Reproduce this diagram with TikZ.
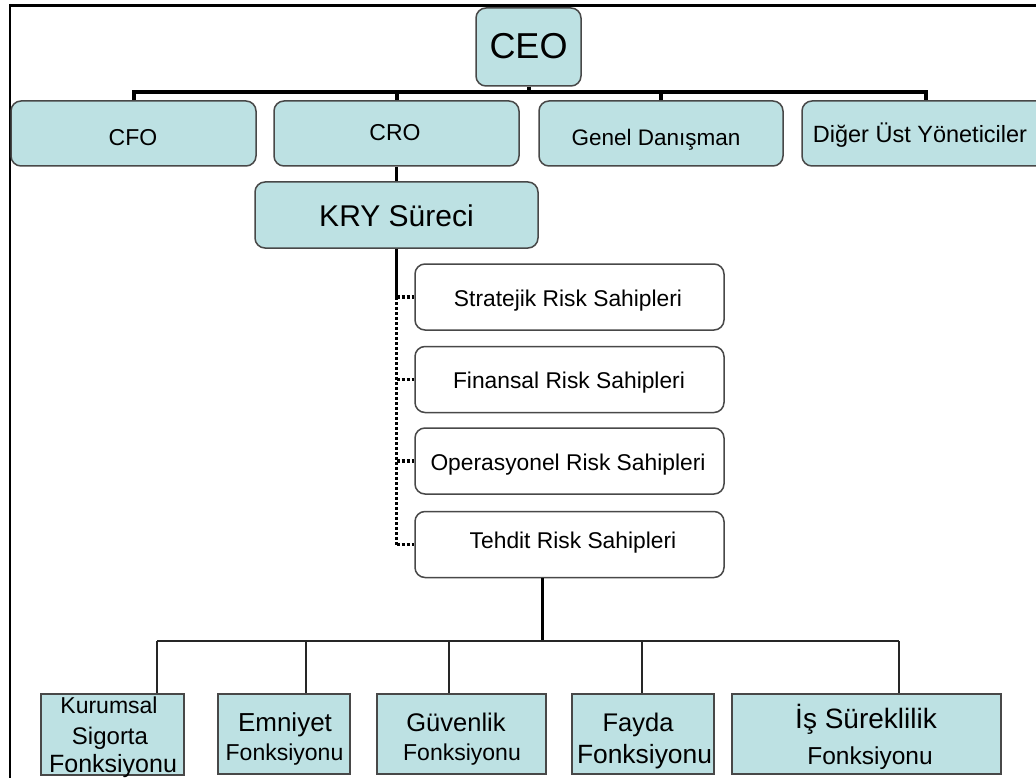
\documentclass[tikz,border=0pt]{standalone}
\usepackage{fontspec}
\setmainfont{Liberation Sans}
\definecolor{boxblue}{RGB}{189,225,227}
\definecolor{edgegray}{RGB}{72,72,72}
\tikzset{
  rbox/.style={draw=edgegray, line width=1.5pt, rounded corners=10pt, inner sep=0pt},
  bluebox/.style={rbox, fill=boxblue},
  whitebox/.style={rbox, fill=white},
  sqbox/.style={draw=edgegray, line width=1.5pt, fill=boxblue, inner sep=0pt},
  lbl/.style={anchor=base, inner sep=0pt, text=black, font=\fontsize{#1}{#1}\selectfont},
  mainline/.style={draw=black, line width=4pt},
  spine/.style={draw=black, line width=3pt},
  dotline/.style={draw=black, line width=3.5pt, dash pattern=on 3pt off 2pt},
  thinline/.style={draw=black!85, line width=1.4pt}
}
\begin{document}
\begin{tikzpicture}[x=1pt,y=-1pt]
\clip (0,0) rectangle (1036,778);
\fill[white] (0,0) rectangle (1036,778);
% page frame
\draw[line width=3pt] (9,5.5) -- (1040,5.5);
\draw[line width=2pt] (9.5,4) -- (9.5,790);

% top management
\node[bluebox, minimum width=105pt, minimum height=78pt] (ceo) at (528.5,47) {};
\node[bluebox, minimum width=245pt, minimum height=65pt] (cfo) at (133.5,133.5) {};
\node[bluebox, minimum width=245pt, minimum height=65pt] (cro) at (396.5,133.5) {};
\node[bluebox, minimum width=244pt, minimum height=65pt] (gd) at (661,133.5) {};
\node[bluebox, minimum width=248pt, minimum height=65pt] (dy) at (926,133.5) {};
\node[lbl=36] (ceo-t) at (528.5,59) {CEO};
\node[lbl=23] (cfo-t) at (133,146) {CFO};
\node[lbl=23] (cro-t) at (395,141) {CRO};
\node[lbl=22.5] (gd-t) at (656,146) {Genel Danışman};
\node[lbl=23.5] (dy-t) at (920,143) {Diğer Üst Yöneticiler};

\coordinate (bus) at (528.5,92);
\draw[mainline] (ceo.south) -- (bus);
\draw[mainline] (cfo.north) |- (bus) -| (dy.north);
\draw[mainline] (cro.north) -- (cro.north |- bus);
\draw[mainline] (gd.north) -- (gd.north |- bus);

% ERM process
\node[bluebox, minimum width=283pt, minimum height=66pt] (kry) at (396.5,215) {};
\node[lbl=30] (kry-t) at (396.5,226) {KRY Süreci};
\draw[spine] (cro.south) -- (kry.north);

% risk owners
\node[whitebox, minimum width=309pt, minimum height=66pt] (str) at (569.5,297) {};
\node[whitebox, minimum width=309pt, minimum height=66pt] (fin) at (569.5,379.5) {};
\node[whitebox, minimum width=309pt, minimum height=66pt] (ops) at (569.5,461) {};
\node[whitebox, minimum width=309pt, minimum height=66pt] (teh) at (569.5,544.5) {};
\node[lbl=22.8] (str-t) at (568,306) {Stratejik Risk Sahipleri};
\node[lbl=22.8] (fin-t) at (569,388) {Finansal Risk Sahipleri};
\node[lbl=22.8] (ops-t) at (568,470) {Operasyonel Risk Sahipleri};
\node[lbl=22.8] (teh-t) at (573,548) {Tehdit Risk Sahipleri};

\coordinate (sp1) at (kry.south |- str.west);
\draw[spine] (kry.south) -- (sp1);
\draw[dotline] (sp1) -- (kry.south |- teh.west);
\draw[dotline] (sp1) -- (str.west);
\draw[dotline] (kry.south |- fin.west) -- (fin.west);
\draw[dotline] (kry.south |- ops.west) -- (ops.west);
\draw[dotline] (kry.south |- teh.west) -- (teh.west);

% functions
\node[sqbox, minimum width=143pt, minimum height=81pt] (kur) at (112.5,734.5) {};
\node[sqbox, minimum width=132pt, minimum height=80pt] (emn) at (284,734) {};
\node[sqbox, minimum width=169pt, minimum height=80pt] (guv) at (461.5,734) {};
\node[sqbox, minimum width=142pt, minimum height=80pt] (fay) at (643,734) {};
\node[sqbox, minimum width=269pt, minimum height=80pt] (iss) at (866.5,734) {};

\node[lbl=23] (kur-a) at (109,713) {Kurumsal};
\node[lbl=24] (kur-b) at (110,744.5) {Sigorta};
\node[lbl=25] (kur-c) at (113,772) {Fonksiyonu};
\node[lbl=26] (emn-a) at (285,731) {Emniyet};
\node[lbl=23] (emn-b) at (284.5,760) {Fonksiyonu};
\node[lbl=25.5] (guv-a) at (456,731) {Güvenlik};
\node[lbl=23] (guv-b) at (462,760) {Fonksiyonu};
\node[lbl=25.5] (fay-a) at (638,731) {Fayda};
\node[lbl=26.4] (fay-b) at (644.5,763) {Fonksiyonu};
\node[lbl=28] (iss-a) at (866,728) {İş Süreklilik};
\node[lbl=24.5] (iss-b) at (870,764) {Fonksiyonu};

\coordinate (bbus) at (542,641);
\draw[spine] (bbus |- teh.south) -- (bbus);
\coordinate (d1) at (157,641);
\coordinate (d2) at (306,641);
\coordinate (d3) at (449,641);
\coordinate (d4) at (642,641);
\coordinate (d5) at (899,641);
\draw[thinline] (d1) -- (d5);
\draw[thinline] (d1) -- (d1 |- kur.north);
\draw[thinline] (d2) -- (d2 |- emn.north);
\draw[thinline] (d3) -- (d3 |- guv.north);
\draw[thinline] (d4) -- (d4 |- fay.north);
\draw[thinline] (d5) -- (d5 |- iss.north);
\end{tikzpicture}
\end{document}
